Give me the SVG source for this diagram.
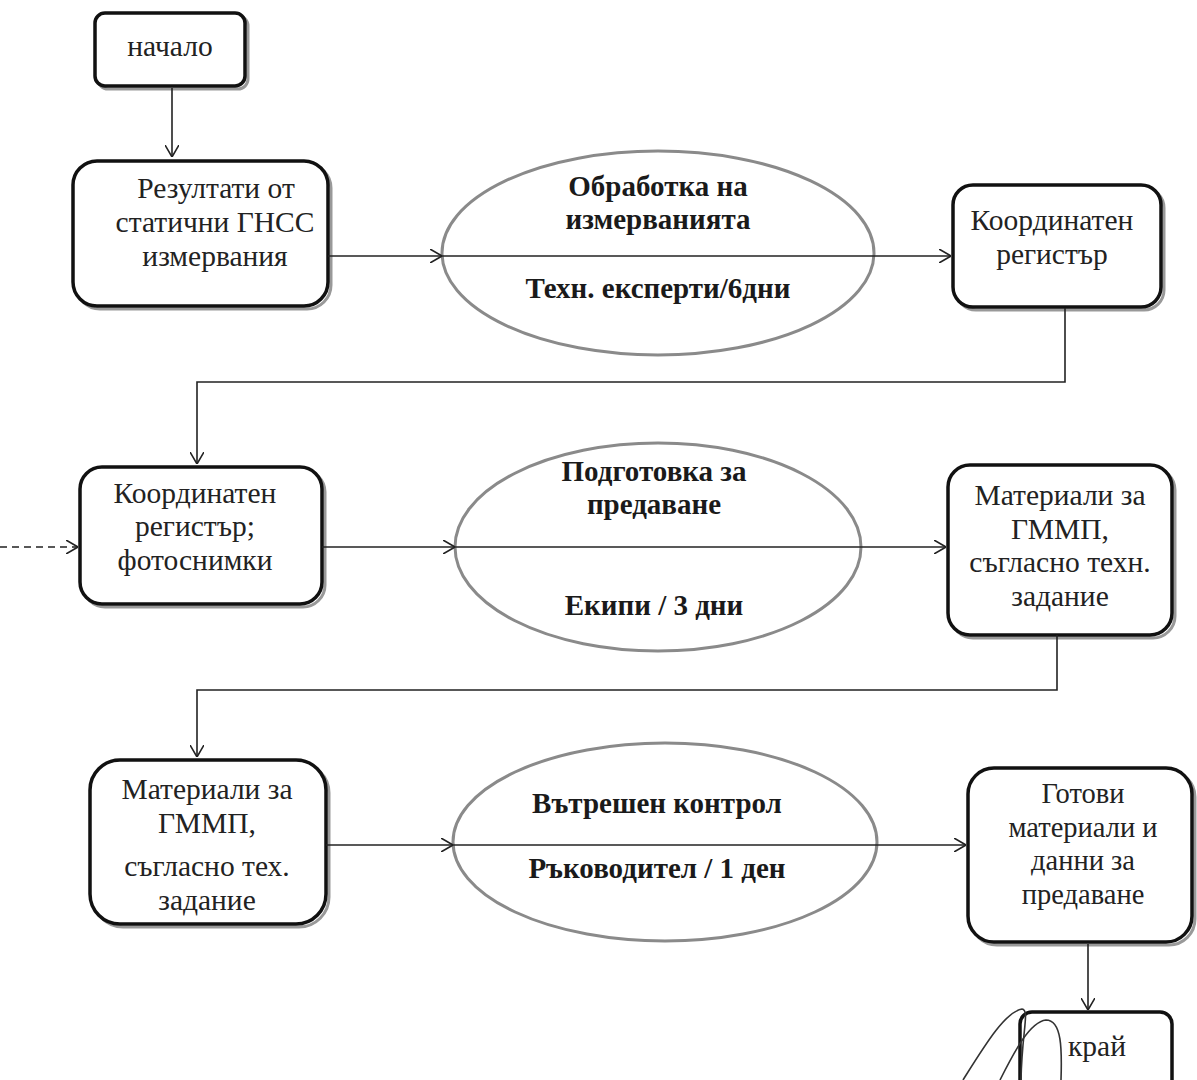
<svg xmlns="http://www.w3.org/2000/svg" width="1197" height="1080" viewBox="0 0 1197 1080">
<defs>
<style>
.box{fill:#fff;stroke:#111;stroke-width:3.5}
.sh{fill:none;stroke:#999;stroke-width:3}
.ell{fill:#fff;stroke:#8a8a8a;stroke-width:3}
.t{font-family:"Liberation Serif","Times New Roman",serif;font-size:29.5px;fill:#222;text-anchor:middle}
.tb{font-family:"Liberation Serif","Times New Roman",serif;font-size:29px;font-weight:bold;fill:#1a1a1a;text-anchor:middle}
.ts{font-size:28.5px}
.ln{fill:none;stroke:#222;stroke-width:1.6}
.pen{fill:none;stroke:#333;stroke-width:1.6}
</style>
<marker id="a" viewBox="0 0 12 14" refX="12" refY="7" markerWidth="12" markerHeight="14" markerUnits="userSpaceOnUse" orient="auto">
<path d="M0,0 L12,7 L0,14" fill="none" stroke="#222" stroke-width="1.6"/>
</marker>
</defs>
<rect width="1197" height="1080" fill="#fff"/>

<g id="n-start">
<rect class="sh" x="98" y="16" width="150" height="73" rx="10"/>
<rect class="box" x="95" y="13" width="150" height="73" rx="10"/>
<text class="t" x="170" y="56">начало</text>
</g>

<g id="n-results">
<rect class="sh" x="76" y="164" width="255" height="145" rx="24"/>
<rect class="box" x="73" y="161" width="255" height="145" rx="24"/>
<text class="t" x="216" y="198">Резултати от</text>
<text class="t" x="215" y="232">статични ГНСС</text>
<text class="t" x="215" y="266">измервания</text>
</g>

<g id="n-proc1">
<ellipse class="ell" cx="658" cy="253" rx="216" ry="102"/>
<text class="tb" x="658" y="196">Обработка на</text>
<text class="tb" x="658" y="229">измерванията</text>
<text class="tb" x="658" y="298">Техн. експерти/6дни</text>
</g>

<g id="n-reg1">
<rect class="sh" x="956" y="188" width="208" height="122" rx="20"/>
<rect class="box" x="953" y="185" width="208" height="122" rx="20"/>
<text class="t" x="1052" y="230">Координатен</text>
<text class="t" x="1052" y="264">регистър</text>
</g>

<g id="n-reg2">
<rect class="sh" x="83" y="470" width="242" height="137" rx="22"/>
<rect class="box" x="80" y="467" width="242" height="137" rx="22"/>
<text class="t" x="195" y="503">Координатен</text>
<text class="t" x="195" y="536">регистър;</text>
<text class="t" x="195" y="570">фотоснимки</text>
</g>

<g id="n-proc2">
<ellipse class="ell" cx="658" cy="547" rx="203" ry="104"/>
<text class="tb" x="654" y="481">Подготовка за</text>
<text class="tb" x="654" y="514">предаване</text>
<text class="tb" x="654" y="615">Екипи / 3 дни</text>
</g>

<g id="n-mat1">
<rect class="sh" x="951" y="468" width="224" height="170" rx="22"/>
<rect class="box" x="948" y="465" width="224" height="170" rx="22"/>
<text class="t" x="1060" y="505">Материали за</text>
<text class="t" x="1060" y="539">ГММП,</text>
<text class="t" x="1060" y="572">съгласно техн.</text>
<text class="t" x="1060" y="606">задание</text>
</g>

<g id="n-mat2">
<rect class="sh" x="93" y="763" width="236" height="164" rx="30"/>
<rect class="box" x="90" y="760" width="236" height="164" rx="30"/>
<text class="t" x="207" y="799">Материали за</text>
<text class="t" x="207" y="833">ГММП,</text>
<text class="t" x="207" y="876">съгласно тех.</text>
<text class="t" x="207" y="910">задание</text>
</g>

<g id="n-proc3">
<ellipse class="ell" cx="665" cy="842" rx="212" ry="99"/>
<text class="tb" x="657" y="813">Вътрешен контрол</text>
<text class="tb" x="657" y="878">Ръководител / 1 ден</text>
</g>

<g id="n-ready">
<rect class="sh" x="971" y="771" width="224" height="174" rx="26"/>
<rect class="box" x="968" y="768" width="224" height="174" rx="26"/>
<text class="t ts" x="1083" y="803">Готови</text>
<text class="t ts" x="1083" y="837">материали и</text>
<text class="t ts" x="1083" y="870">данни за</text>
<text class="t ts" x="1083" y="904">предаване</text>
</g>

<g id="n-end">
<rect class="box" x="1020" y="1012" width="152" height="80" rx="12"/>
<text class="t" x="1097" y="1056">край</text>
</g>

<g id="connectors">
<line class="ln" x1="172" y1="88" x2="172" y2="157" marker-end="url(#a)"/>
<line class="ln" x1="328" y1="256" x2="442" y2="256" marker-end="url(#a)"/>
<line class="ln" x1="442" y1="256" x2="951" y2="256" marker-end="url(#a)"/>
<path class="ln" d="M1065 308 V382 H197 V464" marker-end="url(#a)"/>
<line class="ln" x1="0" y1="547" x2="78" y2="547" stroke-dasharray="7,5" marker-end="url(#a)"/>
<line class="ln" x1="322" y1="547" x2="455" y2="547" marker-end="url(#a)"/>
<line class="ln" x1="455" y1="547" x2="946" y2="547" marker-end="url(#a)"/>
<path class="ln" d="M1057 635 V690 H197 V757" marker-end="url(#a)"/>
<line class="ln" x1="326" y1="845" x2="453" y2="845" marker-end="url(#a)"/>
<line class="ln" x1="453" y1="845" x2="966" y2="845" marker-end="url(#a)"/>
<line class="ln" x1="1088" y1="944" x2="1088" y2="1010" marker-end="url(#a)"/>
</g>

<g id="pen-marks">
<path class="pen" d="M963 1080 C985 1045 1005 1012 1022 1009 C1030 1010 1022 1030 1021 1080"/>
<path class="pen" d="M1000 1080 C1015 1050 1030 1022 1046 1020 C1062 1020 1062 1050 1061 1080"/>
</g>
</svg>
